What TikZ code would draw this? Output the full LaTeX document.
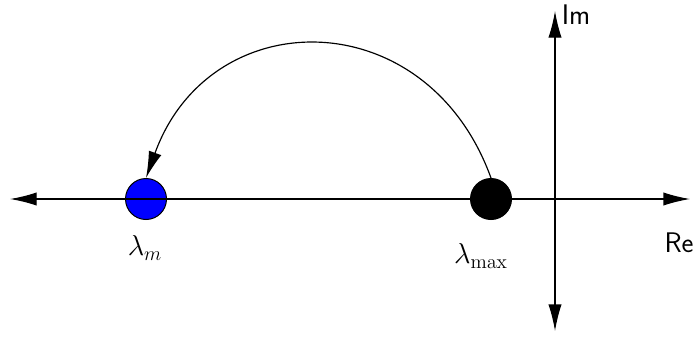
\documentclass[tikz,border=0pt]{standalone}
\usetikzlibrary{arrows.meta}
\begin{document}
\begin{tikzpicture}[x=0.6pt,y=-0.6pt,
  axis/.style={line width=0.8pt,{Latex[length=16pt,width=8pt]}-{Latex[length=16pt,width=8pt]}},
  arcarrow/.style={line width=0.7pt,-{Latex[length=16pt,width=8pt]}},
  dot/.style={circle,draw=black,line width=0.6pt,inner sep=0pt,minimum size=24.6pt},
  lbl/.style={font=\fontsize{17}{20}\selectfont},
  axlbl/.style={font=\fontsize{17}{20}\selectfont\sffamily}]
\useasboundingbox (0,0) rectangle (693,341);
\coordinate (xl) at (10,199);
\coordinate (xr) at (690,199);
\coordinate (yt) at (555,11);
\coordinate (yb) at (555,331);
\draw[axis] (xl) -- (xr);
\draw[axis] (yb) -- (yt);
\node[dot,fill=blue] (m) at (146,199) {};
\node[dot,fill=black] (max) at (491,199) {};
\draw[line width=0.8pt] (m.west) -- (m.east);
\draw[arcarrow] (max.north) .. controls +(-64,-177) and +(64,-177) .. (m.north);
\node[lbl] (lm) at (145,248) {$\lambda_m$};
\node[lbl] (lmax) at (481,256) {$\lambda_{\max}$};
\node[axlbl] (re) at (679,243) {Re};
\node[axlbl] (im) at (576,15) {Im};
\end{tikzpicture}
\end{document}
